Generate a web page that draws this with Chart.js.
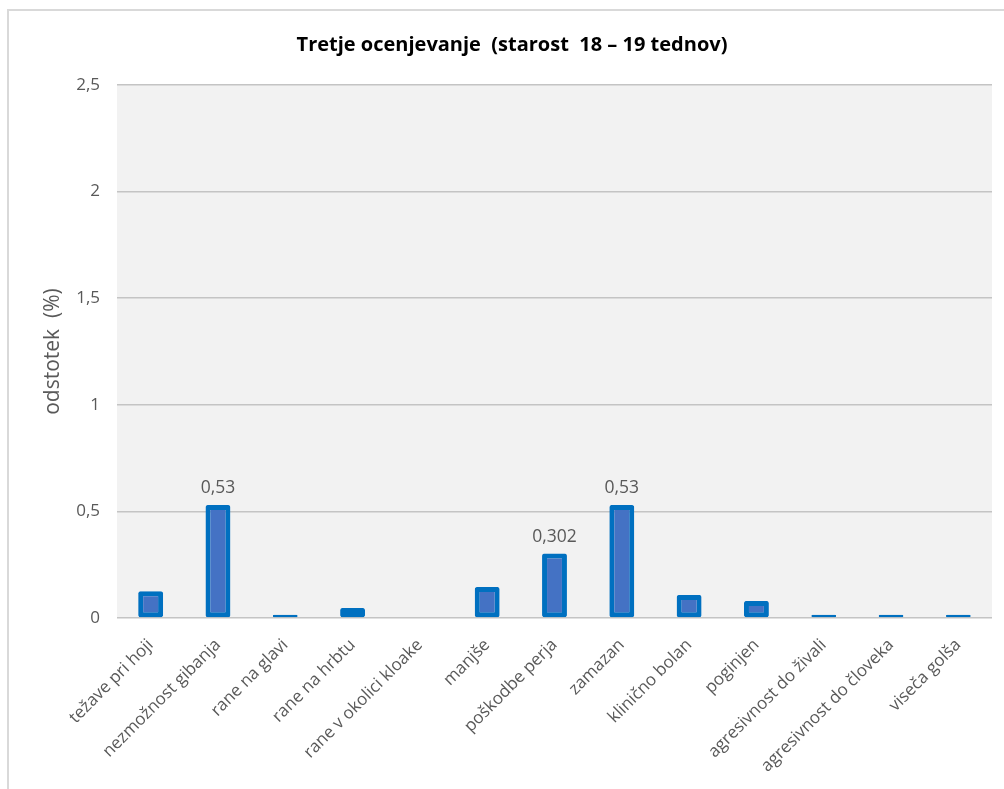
<!DOCTYPE html>
<html>
<head>
<meta charset="utf-8">
<script src="https://cdn.jsdelivr.net/npm/chart.js@4"></script>
<style>
  html, body { margin: 0; padding: 0; background: #fff; }
  #frame {
    position: absolute; left: 7px; top: 9px; width: 1010px; height: 790px;
    border: 2px solid #d9d9d9; box-sizing: border-box;
  }
  #wrap { position: absolute; left: 0; top: 0; width: 1004px; height: 789px; }
</style>
</head>
<body>
<div id="frame"></div>
<div id="wrap"><canvas id="chart"></canvas></div>
<script>
// === Data ===
const categories = [
  "težave pri hoji", "nezmožnost gibanja", "rane na glavi", "rane na hrbtu",
  "rane v okolici kloake", "manjše", "poškodbe perja", "zamazan",
  "klinično bolan", "poginjen", "agresivnost do živali",
  "agresivnost do človeka", "viseča golša"
];
const values = [0.125, 0.53, 0.015, 0.047, 0, 0.145, 0.302, 0.53, 0.108, 0.08, 0.015, 0.015, 0.015];
// which bars get a value label on top
const labelled = [false, true, false, false, false, false, true, true, false, false, false, false, false];
const yTicks = [0, 0.5, 1, 1.5, 2, 2.5];
const chartTitle = "Tretje ocenjevanje  (starost  18 – 19 tednov)";

const fmt = (v) => String(v).replace(".", ",");
const textFont = "'Open Sans', 'DejaVu Sans', sans-serif";

// gray plot background + title centred on the whole frame
const plotBg = {
  id: "plotBg",
  beforeDraw(chart) {
    const { ctx, chartArea: a } = chart;
    ctx.save();
    ctx.fillStyle = "#f2f2f2";
    ctx.fillRect(a.left, a.top, a.right - a.left, a.bottom - a.top);
    ctx.font = "bold 20px " + textFont;
    ctx.fillStyle = "#000";
    ctx.textAlign = "center";
    ctx.textBaseline = "middle";
    ctx.fillText(chartTitle, chart.width / 2 + 10, 45);
    ctx.restore();
  },
};

// value labels above selected bars
const barLabels = {
  id: "barLabels",
  afterDatasetsDraw(chart) {
    const { ctx } = chart;
    const meta = chart.getDatasetMeta(0);
    ctx.save();
    ctx.font = "17.5px " + textFont;
    ctx.fillStyle = "#595959";
    ctx.textAlign = "center";
    ctx.textBaseline = "bottom";
    meta.data.forEach((bar, i) => {
      if (!labelled[i]) return;
      ctx.fillText(fmt(values[i]), bar.x, bar.y - 8);
    });
    ctx.restore();
  },
};

const ctx = document.getElementById("chart").getContext("2d");
new Chart(ctx, {
  type: "bar",
  data: {
    labels: categories,
    datasets: [
      {
        data: values,
        backgroundColor: "#4472c4",
        borderColor: "#0070c0",
        borderWidth: 5,
        borderSkipped: false,
        borderRadius: 2,
        barPercentage: 0.37,
        categoryPercentage: 1,
      },
    ],
  },
  options: {
    responsive: true,
    maintainAspectRatio: false,
    animation: false,
    layout: { padding: { left: 0, right: 12, top: 85, bottom: 0 } },
    plugins: {
      legend: { display: false },
      tooltip: { enabled: false },
      title: { display: false },
    },
    scales: {
      x: {
        grid: { display: false },
        border: { display: false },
        ticks: {
          color: "#595959",
          font: { family: textFont, size: 17 },
          minRotation: 45,
          maxRotation: 45,
          autoSkip: false,
          padding: 9,
        },
        afterFit(scale) { scale.height = 171; },
      },
      y: {
        min: 0,
        max: 2.5,
        afterBuildTicks(scale) { scale.ticks = yTicks.map((v) => ({ value: v })); },
        grid: { color: "#c4c4c4", lineWidth: 1.5, drawTicks: false },
        border: { display: false },
        ticks: {
          color: "#595959",
          font: { family: textFont, size: 17 },
          padding: 17,
          callback: (v) => fmt(v),
        },
        title: {
          display: true,
          text: "odstotek  (%)",
          color: "#595959",
          font: { family: textFont, size: 21 },
          padding: { top: 40, bottom: 0 },
        },
        afterFit(scale) { scale.width = 117; },
      },
    },
  },
  plugins: [plotBg, barLabels],
});
</script>
</body>
</html>
